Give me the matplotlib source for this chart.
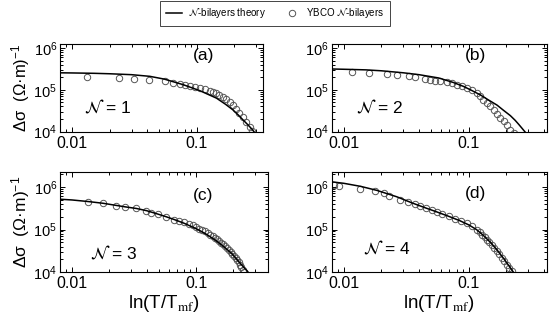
import matplotlib
matplotlib.use('Agg')
import matplotlib.pyplot as plt
from matplotlib.ticker import LogLocator, NullFormatter
from matplotlib.lines import Line2D

plt.rcParams['font.family'] = ['Liberation Sans', 'DejaVu Sans']
plt.rcParams['mathtext.default'] = 'regular'
plt.rcParams['axes.linewidth'] = 0.8

# (a) N = 1
a_th_x = [0.008, 0.01, 0.015, 0.02, 0.03, 0.042, 0.055, 0.0775, 0.106, 0.144, 0.17, 0.195, 0.215, 0.235, 0.26, 0.28, 0.3]
a_th_y = [2.55e5, 2.53e5, 2.48e5, 2.42e5, 2.3e5, 2.1e5, 1.8e5, 1.33e5, 9.5e4, 6.3e4, 4.5e4, 3.3e4, 2.5e4, 1.9e4, 1.4e4, 1.1e4, 8.4e3]
a_x = [0.0131, 0.0238, 0.0315, 0.0416, 0.0555, 0.0646, 0.0731, 0.080, 0.088, 0.0966, 0.106, 0.116, 0.127,
       0.135, 0.144, 0.152, 0.162, 0.173, 0.184, 0.195, 0.208, 0.22, 0.235, 0.25, 0.265, 0.275]
a_y = [2.03e5, 1.92e5, 1.82e5, 1.69e5, 1.6e5, 1.45e5, 1.38e5, 1.3e5, 1.22e5, 1.14e5, 1.08e5, 1.02e5, 9.6e4,
       9.0e4, 8.4e4, 7.7e4, 6.8e4, 5.9e4, 5.0e4, 4.2e4, 3.4e4, 2.8e4, 2.2e4, 1.7e4, 1.3e4, 1.05e4]

# (b) N = 2
b_th_x = [0.008, 0.01, 0.015, 0.02, 0.03, 0.04, 0.0573, 0.075, 0.091, 0.105, 0.124, 0.145, 0.168, 0.19, 0.215,
          0.235, 0.25, 0.265, 0.28, 0.29]
b_th_y = [3.15e5, 3.1e5, 3.0e5, 2.85e5, 2.55e5, 2.3e5, 1.92e5, 1.5e5, 1.2e5, 9.7e4, 7.5e4, 5.6e4, 4.3e4, 3.2e4,
          2.4e4, 1.85e4, 1.5e4, 1.22e4, 1.0e4, 8.8e3]
b_x = [0.01164, 0.0158, 0.0222, 0.0266, 0.0330, 0.0373, 0.0449, 0.0493, 0.054, 0.0591, 0.0668, 0.0733, 0.0804,
       0.0884, 0.097, 0.106, 0.117, 0.124, 0.131, 0.139, 0.148, 0.158, 0.168, 0.178, 0.19, 0.202, 0.215, 0.228]
b_y = [2.67e5, 2.54e5, 2.39e5, 2.3e5, 2.1e5, 2.0e5, 1.85e5, 1.74e5, 1.65e5, 1.6e5, 1.53e5, 1.45e5, 1.33e5,
       1.21e5, 1.1e5, 9.7e4, 8.4e4, 7.0e4, 5.8e4, 4.8e4, 4.0e4, 3.3e4, 2.6e4, 2.1e4, 1.75e4, 1.4e4, 1.1e4, 9.2e3]

# (c) N = 3
c_th_x = [0.008, 0.01, 0.0135, 0.0178, 0.0228, 0.0265, 0.033, 0.04, 0.049, 0.057, 0.067, 0.08, 0.09, 0.1, 0.112,
          0.125, 0.145, 0.167, 0.195, 0.22, 0.24, 0.26, 0.27]
c_th_y = [5.1e5, 4.9e5, 4.5e5, 4.1e5, 3.65e5, 3.4e5, 3.1e5, 2.75e5, 2.3e5, 2.0e5, 1.7e5, 1.4e5, 1.2e5, 1.05e5,
          8.8e4, 7.3e4, 5.5e4, 4.0e4, 2.7e4, 1.8e4, 1.35e4, 1.05e4, 9e3]
c_x = [0.0135, 0.0178, 0.0228, 0.0265, 0.0329, 0.0396, 0.0434, 0.049, 0.0573, 0.0667, 0.073, 0.080, 0.0877, 0.094,
       0.099, 0.106, 0.112, 0.118, 0.124, 0.13, 0.136, 0.142, 0.148, 0.154, 0.16, 0.166, 0.172, 0.178, 0.184, 0.19,
       0.196, 0.202, 0.208, 0.214, 0.22, 0.226, 0.232, 0.238, 0.244]
c_y = [4.47e5, 4.1e5, 3.6e5, 3.4e5, 3.13e5, 2.76e5, 2.47e5, 2.27e5, 2.0e5, 1.66e5, 1.58e5, 1.52e5, 1.35e5, 1.25e5,
       1.17e5, 1.05e5, 9.7e4, 9.0e4, 8.3e4, 7.6e4, 7.0e4, 6.4e4, 5.9e4, 5.4e4, 4.9e4, 4.5e4, 4.1e4, 3.7e4, 3.35e4,
       3.0e4, 2.7e4, 2.4e4, 2.15e4, 1.9e4, 1.7e4, 1.5e4, 1.32e4, 1.16e4, 1.02e4]

# (d) N = 4
d_th_x = [0.008, 0.01, 0.0136, 0.0184, 0.0266, 0.035, 0.045, 0.055, 0.07, 0.085, 0.1, 0.115, 0.13, 0.15, 0.17,
          0.19, 0.21, 0.225, 0.235]
d_th_y = [1.3e6, 1.2e6, 1.02e6, 8.2e5, 5.8e5, 4.2e5, 3.2e5, 2.6e5, 2.0e5, 1.6e5, 1.28e5, 1.0e5, 7.4e4, 4.9e4,
          3.2e4, 2.1e4, 1.4e4, 1.05e4, 9e3]
d_x = [0.0083, 0.0091, 0.0134, 0.0179, 0.0208, 0.0228, 0.028, 0.0324, 0.0368, 0.0409, 0.0457, 0.0508, 0.0557,
       0.061, 0.069, 0.078, 0.086, 0.097, 0.106, 0.116, 0.122, 0.128, 0.134, 0.14, 0.146, 0.153, 0.16, 0.168,
       0.176, 0.184, 0.193, 0.202, 0.211, 0.221]
d_y = [1.1e6, 1.05e6, 8.8e5, 7.9e5, 7.0e5, 6.0e5, 5.0e5, 4.4e5, 3.9e5, 3.5e5, 3.15e5, 2.8e5, 2.5e5, 2.3e5,
       2.05e5, 1.8e5, 1.6e5, 1.4e5, 1.22e5, 1.0e5, 8.8e4, 7.6e4, 6.6e4, 5.7e4, 5.0e4, 4.3e4, 3.7e4, 3.15e4,
       2.65e4, 2.2e4, 1.8e4, 1.5e4, 1.25e4, 1.05e4]

panel_tags = ['(a)', '(b)', '(c)', '(d)']
n_values = [1, 2, 3, 4]
x_ticks = [0.01, 0.1]
x_tick_labels = ['0.01', '0.1']
ylabel = 'Δσ  (Ω·m)$^{-1}$'
xlabel = 'ln(T/T$_{\\mathrm{mf}}$)'


def box(x0, y0, w, h):
    # pixel box (left, top, width, height) -> figure fraction
    return [x0 / 550, 1 - (y0 + h) / 324, w / 550, h / 324]


fig = plt.figure(figsize=(5.5, 3.24), dpi=100)

layout = [
    (box(60, 44, 203, 87.5), a_th_x, a_th_y, a_x, a_y, (0.008, 0.34), (1e4, 1.25e6), (0.707, 0.87), (0.236, 0.29)),
    (box(331.7, 44, 215, 87.5), b_th_x, b_th_y, b_x, b_y, (0.008, 0.42), (1e4, 1.25e6), (0.667, 0.87), (0.225, 0.29)),
    (box(60, 172.3, 208, 100), c_th_x, c_th_y, c_x, c_y, (0.008, 0.38), (1e4, 2.17e6), (0.69, 0.77), (0.26, 0.2)),
    (box(331.7, 172.3, 215, 100), d_th_x, d_th_y, d_x, d_y, (0.008, 0.42), (1e4, 2.17e6), (0.67, 0.79), (0.256, 0.25)),
]

for i, (rect, tx, ty, dx, dy, xlim, ylim, tag_pos, n_pos) in enumerate(layout):
    ax = fig.add_axes(rect)
    ax.plot(tx, ty, color='black', lw=1.1, zorder=3)
    ax.plot(dx, dy, 'o', mfc='none', mec='#555555', ms=4.6, mew=0.7, zorder=2)
    ax.set_xscale('log')
    ax.set_yscale('log')
    ax.set_xlim(*xlim)
    ax.set_ylim(*ylim)
    ax.set_xticks(x_ticks, x_tick_labels)
    ax.xaxis.set_minor_locator(LogLocator(base=10, subs=range(2, 10)))
    ax.xaxis.set_minor_formatter(NullFormatter())
    ax.yaxis.set_major_locator(LogLocator(base=10, numticks=5))
    ax.yaxis.set_minor_locator(LogLocator(base=10, subs=range(2, 10), numticks=20))
    ax.yaxis.set_minor_formatter(NullFormatter())
    ax.tick_params(which='both', direction='in', top=True, right=True, width=0.7)
    ax.tick_params(axis='x', labelsize=11.5)
    ax.tick_params(axis='y', labelsize=10.5)
    ax.tick_params(which='major', length=3.5, pad=3)
    ax.tick_params(axis='y', which='major', pad=2)
    ax.tick_params(which='minor', length=2)
    ax.text(*tag_pos, panel_tags[i], transform=ax.transAxes, ha='center', va='center', fontsize=12.5)
    t = ax.text(*n_pos, r'$\mathcal{N}$ = %d' % n_values[i], transform=ax.transAxes,
                ha='center', va='center', fontsize=12.5)
    t.set_math_fontfamily('stix')

for yc, fs in [(87.75, 12), (222.3, 12.5)]:
    fig.text(21 / 550, 1 - yc / 324, ylabel, rotation=90, ha='center', va='center', fontsize=fs)
for xc in [164, 439]:
    t = fig.text(xc / 550, 1 - 304 / 324, xlabel, ha='center', va='center', fontsize=13.5)
    t.set_math_fontfamily('stix')

handles = [Line2D([], [], color='black', lw=1.1),
           Line2D([], [], ls='none', marker='o', mfc='none', mec='#555555', ms=4.6, mew=0.7)]
labels = [r'$\mathcal{N}$-bilayers theory', r'YBCO $\mathcal{N}$-bilayers']
leg = fig.legend(handles, labels, loc='center', bbox_to_anchor=(275 / 550, 1 - 13.5 / 324), ncol=2,
                 fontsize=7, frameon=True, fancybox=False, edgecolor='#444444', framealpha=1,
                 handlelength=1.7, handletextpad=0.6, columnspacing=1.8, borderpad=0.55)
leg.get_frame().set_linewidth(0.7)
for t in leg.get_texts():
    t.set_math_fontfamily('stix')

fig.savefig('out.png', dpi=100)
